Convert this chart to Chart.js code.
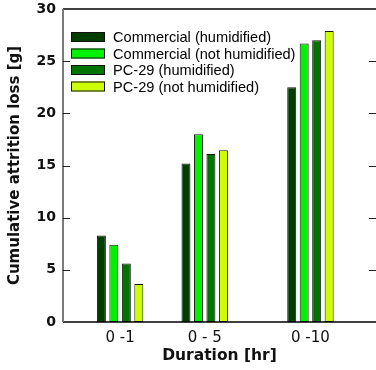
<!DOCTYPE html>
<html>
<head>
<meta charset="utf-8">
<script src="https://cdn.jsdelivr.net/npm/chart.js@4/dist/chart.umd.min.js"></script>
<style>
  html, body { margin: 0; padding: 0; background: #fff; }
  #wrap { width: 376px; height: 370px; }
</style>
</head>
<body>
<div id="wrap"><canvas id="chart" width="376" height="370"></canvas></div>
<script>
// durations (hours) and their tick labels
const durations = [1, 5, 10];
const durationLabels = ['0 -1', '0 - 5', '0 -10'];

const seriesNames = [
    'Commercial (humidified)',
    'Commercial (not humidified)',
    'PC-29 (humidified)',
    'PC-29 (not humidified)'
];
const commercialHumid = [8.3, 15.2, 22.5];
const commercialDry = [7.4, 18.0, 26.7];
const pc29Humid = [5.6, 16.1, 27.0];
const pc29Dry = [3.65, 16.45, 27.9];

const barColors = ['#003d00', '#00f200', '#007400', '#ccff00'];
const yTicks = [0, 5, 10, 15, 20, 25, 30];

const allSeries = [commercialHumid, commercialDry, pc29Humid, pc29Dry];

// frame, inward ticks and the boxed legend inside the plot
const framePlugin = {
    id: 'frame',
    afterDatasetsDraw(chart) {
        const { ctx, chartArea } = chart;
        const y = chart.scales.y;
        ctx.save();
        // top border
        ctx.strokeStyle = '#000';
        ctx.lineWidth = 1.5;
        ctx.beginPath();
        ctx.moveTo(chartArea.left, chartArea.top);
        ctx.lineTo(chartArea.right, chartArea.top);
        ctx.stroke();
        // bottom axis
        ctx.beginPath();
        ctx.moveTo(chartArea.left, chartArea.bottom);
        ctx.lineTo(chartArea.right, chartArea.bottom);
        ctx.stroke();
        // left axis (grey)
        ctx.strokeStyle = '#7a7a7a';
        ctx.lineWidth = 2;
        ctx.beginPath();
        ctx.moveTo(chartArea.left, chartArea.top);
        ctx.lineTo(chartArea.left, chartArea.bottom);
        ctx.stroke();
        // ticks pointing in, left and right
        ctx.strokeStyle = '#222';
        ctx.lineWidth = 1;
        yTicks.slice(1, -1).forEach(v => {
            const py = Math.round(y.getPixelForValue(v)) + 0.5;
            ctx.beginPath();
            ctx.moveTo(chartArea.left, py);
            ctx.lineTo(chartArea.left + 7, py);
            ctx.moveTo(chartArea.right - 7, py);
            ctx.lineTo(chartArea.right, py);
            ctx.stroke();
        });
        // legend
        ctx.font = '14.6px "Liberation Sans", Arial, sans-serif';
        ctx.textBaseline = 'middle';
        chart.data.datasets.forEach((ds, i) => {
            const cy = chartArea.top + 28 + i * 16.5;
            const bx = chartArea.left + 8;
            ctx.fillStyle = ds.backgroundColor;
            ctx.fillRect(bx, cy - 5, 34, 10);
            ctx.strokeStyle = '#111';
            ctx.lineWidth = 1;
            ctx.strokeRect(bx + 0.5, cy - 4.5, 33, 9);
            ctx.fillStyle = '#000';
            ctx.fillText(ds.label, bx + 42, cy + 1);
        });
        ctx.restore();
    }
};

const ctx = document.getElementById('chart').getContext('2d');
new Chart(ctx, {
    type: 'bar',
    data: {
        datasets: seriesNames.map((name, i) => ({
            label: name,
            data: durations.map((d, j) => ({ x: d, y: allSeries[i][j] })),
            backgroundColor: barColors[i],
            borderColor: '#151515',
            borderWidth: 1,
            borderSkipped: false,
            categoryPercentage: 0.59,
            barPercentage: 0.72
        }))
    },
    options: {
        responsive: false,
        animation: false,
        events: [],
        layout: { padding: { top: 9, right: 0, left: 6, bottom: 5 } },
        plugins: {
            legend: { display: false },
            tooltip: { enabled: false }
        },
        scales: {
            x: {
                type: 'linear',
                offset: false,
                min: -1.7,
                max: 13.1,
                afterBuildTicks: axis => {
                    axis.ticks = durations.map(v => ({ value: v }));
                },
                afterFit: axis => {
                    axis.height = 43;
                    axis.paddingLeft = 0;
                    axis.paddingRight = 0;
                },
                grid: { display: false, drawTicks: false },
                border: { display: false },
                ticks: {
                    color: '#111',
                    padding: 7,
                    maxRotation: 0,
                    font: { family: '"DejaVu Sans", Verdana, sans-serif', size: 15 },
                    callback: v => durationLabels[durations.indexOf(v)]
                },
                title: {
                    display: true,
                    text: 'Duration [hr]',
                    color: '#111',
                    padding: { top: 0, bottom: 0 },
                    font: { family: '"DejaVu Sans", Verdana, sans-serif', size: 15.5, weight: 'bold' }
                }
            },
            y: {
                min: 0,
                max: 30,
                afterBuildTicks: axis => {
                    axis.ticks = yTicks.map(v => ({ value: v }));
                },
                afterFit: axis => {
                    axis.width = 57;
                    axis.paddingTop = 0;
                    axis.paddingBottom = 0;
                },
                grid: { display: false, drawTicks: false },
                border: { display: false },
                ticks: {
                    color: '#111',
                    padding: 7,
                    font: { family: '"DejaVu Sans", Verdana, sans-serif', size: 14, weight: 'bold' }
                },
                title: {
                    display: true,
                    text: 'Cumulative attrition loss [g]',
                    color: '#111',
                    padding: { top: 0, bottom: 4 },
                    font: { family: '"DejaVu Sans", Verdana, sans-serif', size: 15, weight: 'bold' }
                }
            }
        }
    },
    plugins: [framePlugin]
});
</script>
</body>
</html>
